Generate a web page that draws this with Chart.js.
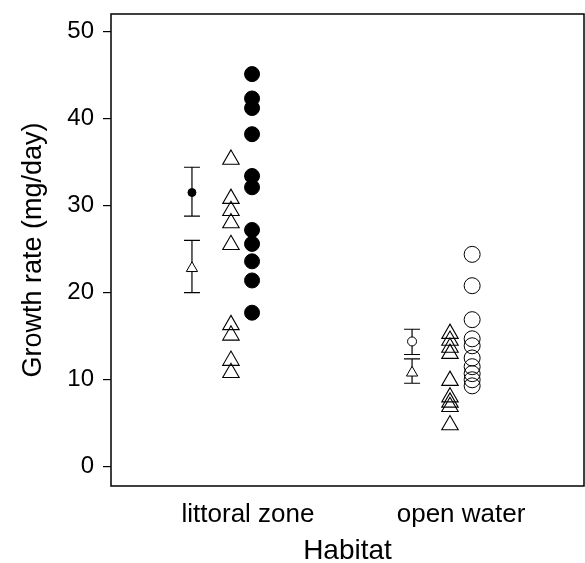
<!DOCTYPE html>
<html>
<head>
<meta charset="utf-8">
<script src="https://cdn.jsdelivr.net/npm/chart.js@4"></script>
<style>
  html, body { margin: 0; padding: 0; background: #ffffff; overflow: hidden; }
  canvas { display: block; }
</style>
</head>
<body>
<canvas id="c" width="585" height="563" style="width:585px;height:563px"></canvas>
<script>
// ---- data ----
const categories = ['littoral zone', 'open water'];
const yTicks = [0, 10, 20, 30, 40, 50];

// individual observations
const littoralCircles   = [45.1, 42.3, 41.2, 38.2, 33.4, 32.1, 27.2, 25.6, 23.6, 21.4, 17.7];
const littoralTriangles = [35.3, 30.8, 29.4, 28.0, 25.5, 16.3, 15.1, 12.2, 10.8];
const openCircles       = [24.4, 20.8, 16.9, 14.7, 13.9, 12.5, 11.5, 10.7, 10.0, 9.3];
const openTriangles     = [15.3, 14.5, 13.7, 13.0, 9.9, 8.0, 7.4, 6.9, 4.8];

// means with error bars (index follows categories)
const circleMean    = [31.5, 14.4];
const circleLow     = [28.8, 12.9];
const circleHigh    = [34.4, 15.8];
const triangleMean  = [22.8, 10.8];
const triangleLow   = [20.0, 9.6];
const triangleHigh  = [26.0, 12.4];

// ---- layout (x offsets of columns relative to category position) ----
const errOffset  = [-0.263, -0.230];
const triOffset  = [-0.080, -0.052];
const circOffset = [0.019, 0.052];

function pts(values, catIdx, offs) {
  return values.map(v => ({ x: catIdx + 1 + offs[catIdx], y: v }));
}

const errorBars = {
  id: 'errorBars',
  beforeDatasetsDraw(chart) {
    const { ctx, scales: { x, y } } = chart;
    ctx.save();
    ctx.strokeStyle = '#000';
    ctx.lineWidth = 1.2;
    const cap = 8;
    const draw = (cx, lo, hi) => {
      const px = x.getPixelForValue(cx);
      const pl = y.getPixelForValue(lo);
      const ph = y.getPixelForValue(hi);
      ctx.beginPath();
      ctx.moveTo(px, pl); ctx.lineTo(px, ph);
      ctx.moveTo(px - cap, pl); ctx.lineTo(px + cap, pl);
      ctx.moveTo(px - cap, ph); ctx.lineTo(px + cap, ph);
      ctx.stroke();
    };
    categories.forEach((c, i) => {
      const cx = i + 1 + errOffset[i];
      draw(cx, circleLow[i], circleHigh[i]);
      draw(cx, triangleLow[i], triangleHigh[i]);
    });
    ctx.restore();
  }
};

const frame = {
  id: 'frame',
  afterDraw(chart) {
    const { ctx, chartArea: a } = chart;
    ctx.save();
    ctx.strokeStyle = '#000';
    ctx.lineWidth = 1.5;
    ctx.strokeRect(a.left, a.top, a.right - a.left, a.bottom - a.top);
    ctx.restore();
  }
};

const FONT = "'Liberation Sans', Arial, Helvetica, sans-serif";

new Chart(document.getElementById('c'), {
  type: 'scatter',
  data: {
    datasets: [
      { label: 'littoral circles', data: pts(littoralCircles, 0, circOffset),
        pointStyle: 'circle', pointRadius: 7.5, backgroundColor: '#000', borderColor: '#000', borderWidth: 1 },
      { label: 'open circles', data: pts(openCircles, 1, circOffset),
        pointStyle: 'circle', pointRadius: 8, backgroundColor: 'rgba(0,0,0,0)', borderColor: '#000', borderWidth: 1 },
      { label: 'littoral triangles', data: pts(littoralTriangles, 0, triOffset),
        pointStyle: 'triangle', pointRadius: 9.5, backgroundColor: 'rgba(0,0,0,0)', borderColor: '#000', borderWidth: 1.1 },
      { label: 'open triangles', data: pts(openTriangles, 1, triOffset),
        pointStyle: 'triangle', pointRadius: 9.5, backgroundColor: 'rgba(0,0,0,0)', borderColor: '#000', borderWidth: 1.1 },
      { label: 'circle means', data: circleMean.map((v, i) => ({ x: i + 1 + errOffset[i], y: v })),
        pointStyle: 'circle', pointRadius: [4, 4.5], backgroundColor: ['#000', '#fff'], borderColor: '#000', borderWidth: 1 },
      { label: 'triangle means', data: triangleMean.map((v, i) => ({ x: i + 1 + errOffset[i], y: v })),
        pointStyle: 'triangle', pointRadius: 6.5, backgroundColor: '#fff', borderColor: '#000', borderWidth: 1 }
    ]
  },
  options: {
    responsive: false,
    devicePixelRatio: 1,
    animation: false,
    events: [],
    layout: { autoPadding: false, padding: { top: 14, right: 1, left: 0, bottom: 0 } },
    plugins: { legend: { display: false }, tooltip: { enabled: false } },
    scales: {
      x: {
        type: 'linear',
        min: 0.357,
        max: 2.577,
        afterBuildTicks(s) { s.ticks = categories.map((c, i) => ({ value: i + 1 })); },
        afterFit(s) { s.height = 77; s.paddingLeft = 0; s.paddingRight = 0; },
        ticks: {
          callback: (v) => categories[Math.round(v) - 1] || '',
          font: { family: FONT, size: 26 },
          color: '#000',
          padding: 13,
          maxRotation: 0,
          autoSkip: false
        },
        grid: { display: false, drawTicks: false },
        border: { display: false },
        title: { display: true, text: 'Habitat', font: { family: FONT, size: 28, lineHeight: 1 }, color: '#000',
                 padding: { top: 0, bottom: -2 } }
      },
      y: {
        min: -2.2,
        max: 52.0,
        afterBuildTicks(s) { s.ticks = yTicks.map(v => ({ value: v })); },
        afterFit(s) { s.width = 111; s.paddingTop = 0; s.paddingBottom = 0; },
        ticks: { font: { family: FONT, size: 24 }, color: '#000', padding: 9 },
        grid: { drawOnChartArea: false, drawTicks: true, tickLength: 8, color: '#000', lineWidth: 1.2 },
        border: { display: false },
        title: { display: true, text: 'Growth rate (mg/day)', font: { family: FONT, size: 27, lineHeight: 1.2 }, color: '#000',
                 padding: { top: 17, bottom: 0 } }
      }
    }
  },
  plugins: [errorBars, frame]
});
</script>
</body>
</html>
